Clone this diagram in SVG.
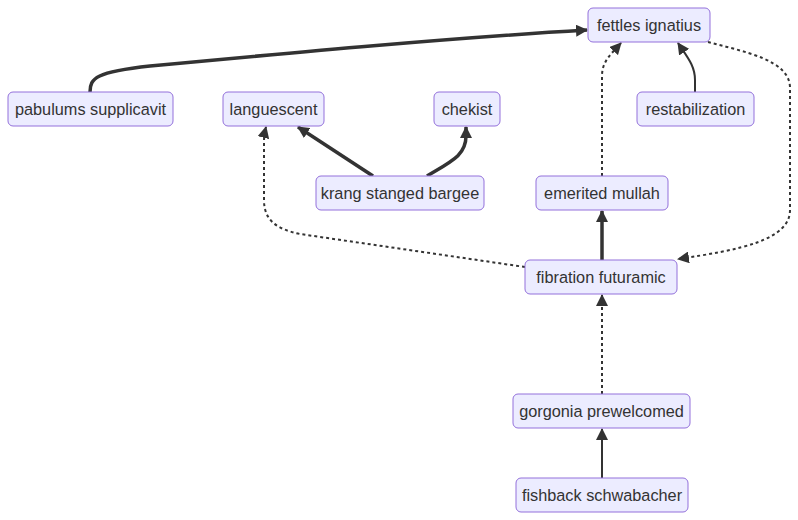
<svg xmlns="http://www.w3.org/2000/svg" width="798" height="520" viewBox="0 0 798 520">
<style>
.node rect{fill:#ECECFF;stroke:#9370DB;stroke-width:1}
.node text{font-family:"Liberation Sans",Arial,sans-serif;font-size:16.3px;fill:#333;text-anchor:middle;dominant-baseline:central}
.e{fill:none;stroke:#333;stroke-width:2}
.thick{stroke-width:3.5}
.dot{stroke-dasharray:3 3}
</style>
<defs>
<marker id="arr" viewBox="0 0 12 12" refX="11" refY="6" markerWidth="12" markerHeight="12" markerUnits="userSpaceOnUse" orient="auto">
<path d="M0,0 L12,6 L0,12 z" fill="#333"/>
</marker>
</defs>
<rect width="798" height="520" fill="#fff"/>
<g id="edges">
<path class="e thick" d="M90,92 C90,78 96,72 150,66 C300,52 450,38 587,30" marker-end="url(#arr)"/>
<path class="e thick" d="M373,176 L298,127" marker-end="url(#arr)"/>
<path class="e thick" d="M427,176 C452,161 466,155 466,136 L466,127" marker-end="url(#arr)"/>
<path class="e" d="M695,92 L695,80 C695,66 688,58 678,43" marker-end="url(#arr)"/>
<path class="e dot" d="M602,176 L602,76 C602,62 610,55 621,43" marker-end="url(#arr)"/>
<path class="e dot" d="M708,42 C745,52 790,60 790,88 L790,210 C790,240 740,250 678,259" marker-end="url(#arr)"/>
<path class="e thick" d="M602,260 L602,211" marker-end="url(#arr)"/>
<path class="e dot" d="M525,267 L300,234 C276,229 264,220 264,200 L264,142 C264,135 265,131 266,127" marker-end="url(#arr)"/>
<path class="e dot" d="M602,394 L602,295" marker-end="url(#arr)"/>
<path class="e" d="M602,478 L602,429" marker-end="url(#arr)"/>
</g>
<g id="fettles" class="node"><rect x="588" y="8" width="122" height="34" rx="5"/><text x="649" y="25">fettles ignatius</text></g>
<g id="pabulums" class="node"><rect x="8" y="92" width="165" height="34" rx="5"/><text x="90.5" y="109">pabulums supplicavit</text></g>
<g id="languescent" class="node"><rect x="223" y="92" width="101" height="34" rx="5"/><text x="273.5" y="109">languescent</text></g>
<g id="chekist" class="node"><rect x="434" y="92" width="66" height="34" rx="5"/><text x="467" y="109">chekist</text></g>
<g id="restabilization" class="node"><rect x="637" y="92" width="117" height="34" rx="5"/><text x="695.5" y="109">restabilization</text></g>
<g id="krang" class="node"><rect x="316" y="176" width="168" height="34" rx="5"/><text x="400" y="193">krang stanged bargee</text></g>
<g id="emerited" class="node"><rect x="536" y="176" width="132" height="34" rx="5"/><text x="602" y="193">emerited mullah</text></g>
<g id="fibration" class="node"><rect x="525" y="260" width="152" height="34" rx="5"/><text x="601" y="277">fibration futuramic</text></g>
<g id="gorgonia" class="node"><rect x="513" y="394" width="177" height="34" rx="5"/><text x="601.5" y="411">gorgonia prewelcomed</text></g>
<g id="fishback" class="node"><rect x="516" y="478" width="172" height="34" rx="5"/><text x="602" y="495">fishback schwabacher</text></g>
</svg>
